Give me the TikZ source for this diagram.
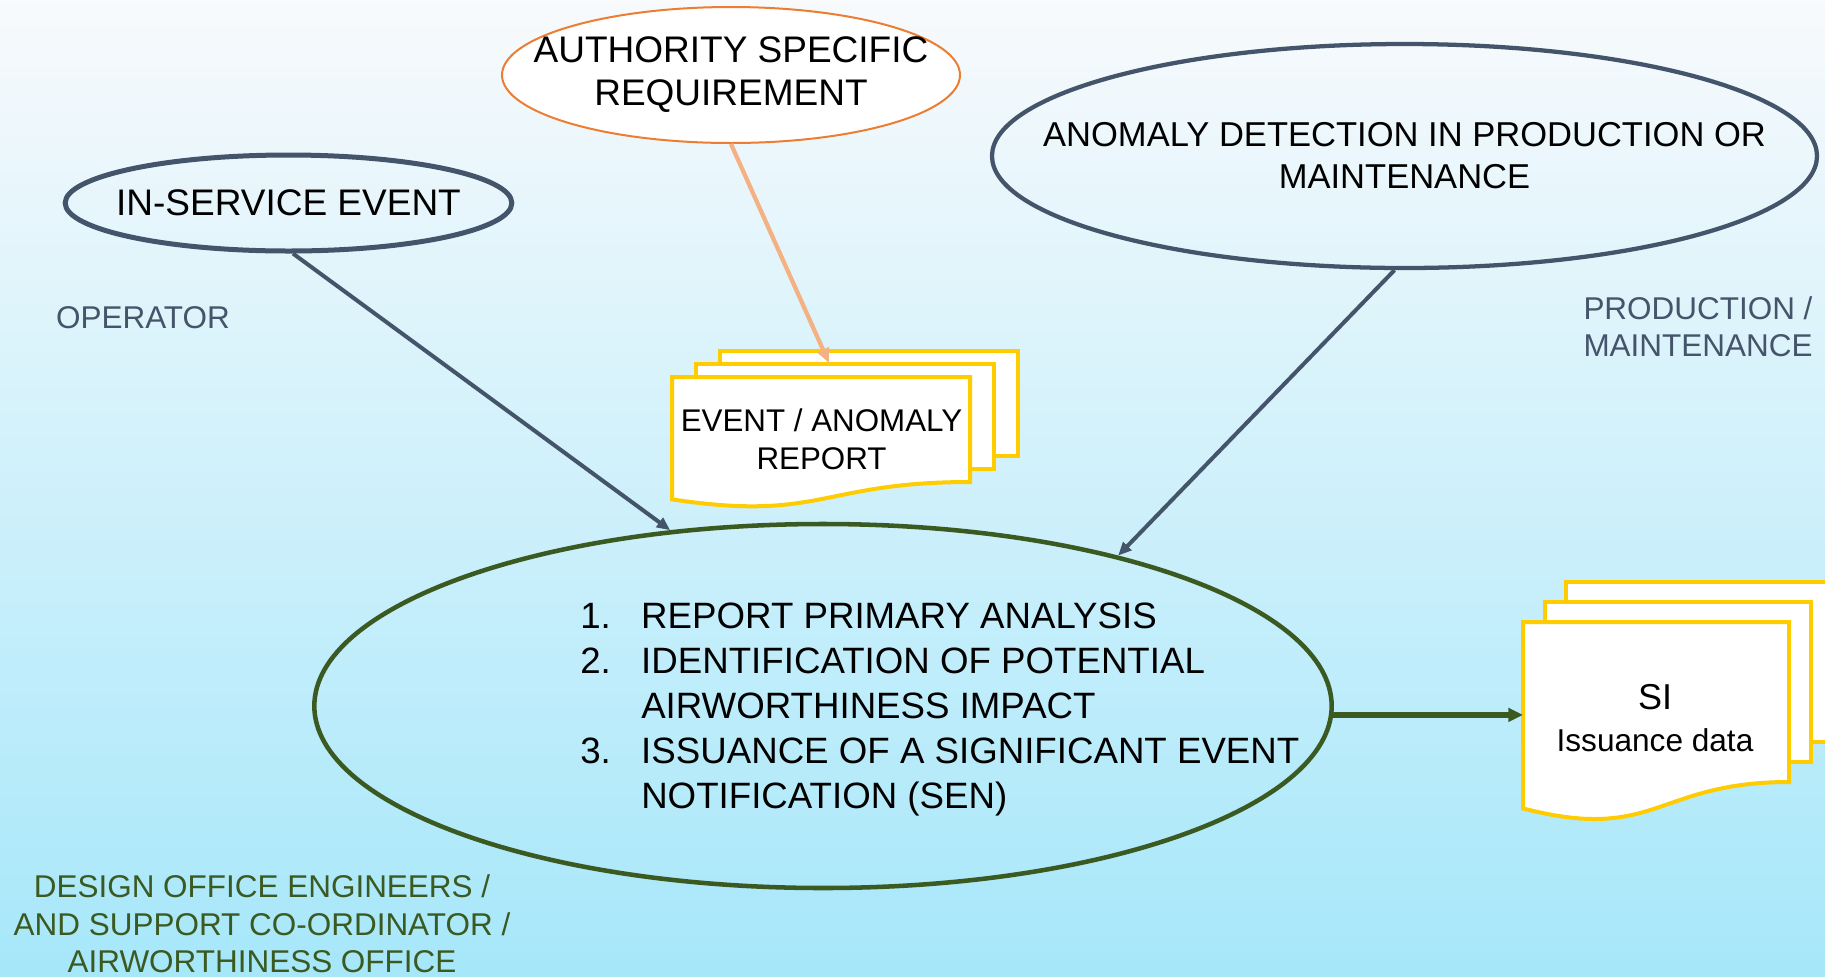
\documentclass[tikz,border=0pt]{standalone}
\usepackage{fontspec}
\setmainfont{Liberation Sans}
\usepackage{xcolor}
\usepackage{tikz}
\usetikzlibrary{shapes.geometric,arrows.meta}

\definecolor{slate}{HTML}{44546A}
\definecolor{leaf}{HTML}{3B5A22}
\definecolor{rust}{HTML}{ED7D31}
\definecolor{peach}{HTML}{F4B183}
\definecolor{gold}{HTML}{FFCC00}
\definecolor{bgtop}{HTML}{F8FAFC}
\definecolor{bgmid}{HTML}{D2F9FD}
\definecolor{bgbot}{HTML}{A6E7FA}

\newcommand{\ovaltxt}{\fontsize{27.75pt}{32.25pt}\selectfont}
\newcommand{\anomtxt}{\fontsize{25.9pt}{31.5pt}\selectfont}
\newcommand{\listtxt}{\fontsize{27.5pt}{33.75pt}\selectfont}
\newcommand{\labtxt}{\fontsize{23.6pt}{28pt}\selectfont}
\newcommand{\doctxt}{\fontsize{23.5pt}{28.5pt}\selectfont}

\tikzset{
  oval/.style={ellipse, inner sep=0pt},
  ovaltext/.style={inner sep=0pt, align=center},
  page/.style={draw=gold, line width=3pt, fill=white, line join=miter},
  flow/.style={draw=slate, line width=3pt, -{Triangle[length=10pt,width=8.5pt]}},
}

% one sheet of a stack: x, y, width, height of the right edge
\newcommand{\docback}[4]{\draw[page] (#1,#2) rectangle (#1+#3,#2+#4);}
\newcommand{\docfront}[4]{\draw[page] (#1,#2) -- (#1+#3,#2) -- (#1+#3,#2+#4)
  .. controls (#1+#3/2,#2+#4) and (#1+#3/2,#2+1.381*#4) .. (#1,#2+1.165*#4) -- cycle;}

\begin{document}
\begin{tikzpicture}[x=0.75pt,y=0.75pt,yscale=-1,xscale=1]

\useasboundingbox (0,0) rectangle (1825,976);

\begin{scope}[yscale=-1]
\shade[top color=bgtop, middle color=bgmid, bottom color=bgbot] (0,0) rectangle (1825,-976);
\end{scope}

\node [oval, draw=slate, line width=3.75pt, minimum width=335pt, minimum height=72pt] (inserv) at (288.5,203) {};
\node [ovaltext, font=\ovaltxt] (inservtxt) at (inserv.center) {IN-SERVICE EVENT};

\node [oval, draw=rust, line width=1.5pt, fill=white, minimum width=343.5pt, minimum height=102pt] (auth) at (731,75) {};
\node [ovaltext, font=\ovaltxt] (authtxt) at (auth.center) {AUTHORITY SPECIFIC\\REQUIREMENT};

\node [oval, draw=slate, line width=3.2pt, minimum width=618.75pt, minimum height=168pt] (anom) at (1404.5,156) {};
\node [ovaltext, font=\anomtxt] (anomtxt) at (anom.center) {ANOMALY DETECTION IN PRODUCTION OR\\MAINTENANCE};

\node [oval, draw=leaf, line width=3.4pt, minimum width=763pt, minimum height=273pt] (main) at (823,706) {};

\node [anchor=north west, inner sep=0pt, align=left, font=\listtxt] (steps) at (580,603) {\makebox[45.75pt][l]{1.}REPORT PRIMARY ANALYSIS\\
\makebox[45.75pt][l]{2.}IDENTIFICATION OF POTENTIAL\\
\hspace*{45.75pt}AIRWORTHINESS IMPACT\\
\makebox[45.75pt][l]{3.}ISSUANCE OF A SIGNIFICANT EVENT\\
\hspace*{45.75pt}NOTIFICATION (SEN)};

\docback{720}{351}{298}{105}
\docback{696}{364}{298}{105}
\docfront{672}{377}{298}{105}

\node [align=center, inner sep=0pt, font=\doctxt] (report) at (821.5,439.5) {EVENT / ANOMALY\\REPORT};

\coordinate (reportin) at (829,363);

\docback{1566}{582}{266}{160}
\docback{1544.5}{602}{266}{160}
\docfront{1523}{622}{266}{160}

\node [align=center, inner sep=0pt, font=\fontsize{23.7pt}{32pt}\selectfont] (si) at (1655,718) {{\fontsize{27pt}{32pt}\selectfont SI}\\Issuance data};

\coordinate (siin) at (1523,718);

\node [text=slate, font=\labtxt] (oper) at (143,318) {OPERATOR};

\node [text=slate, font=\labtxt, align=center] (prod) at (1698,327) {PRODUCTION /\\MAINTENANCE};

\node [text=leaf, font=\labtxt, align=center] (office) at (262,924) {DESIGN OFFICE ENGINEERS /\\AND SUPPORT CO-ORDINATOR /\\AIRWORTHINESS OFFICE};

\draw [flow] (inserv.-85) -- (main.131);

\draw [flow] (anom.265) -- (main.27);

\draw [draw=peach, line width=3.2pt, -{Triangle[length=11pt,width=9pt]}] (auth.south) -- (reportin);

\draw [draw=leaf, line width=4.5pt, -{Triangle[length=11pt,width=10pt]}] (main.-1.5) -- (main.-1.5 -| siin);

\end{tikzpicture}
\end{document}
